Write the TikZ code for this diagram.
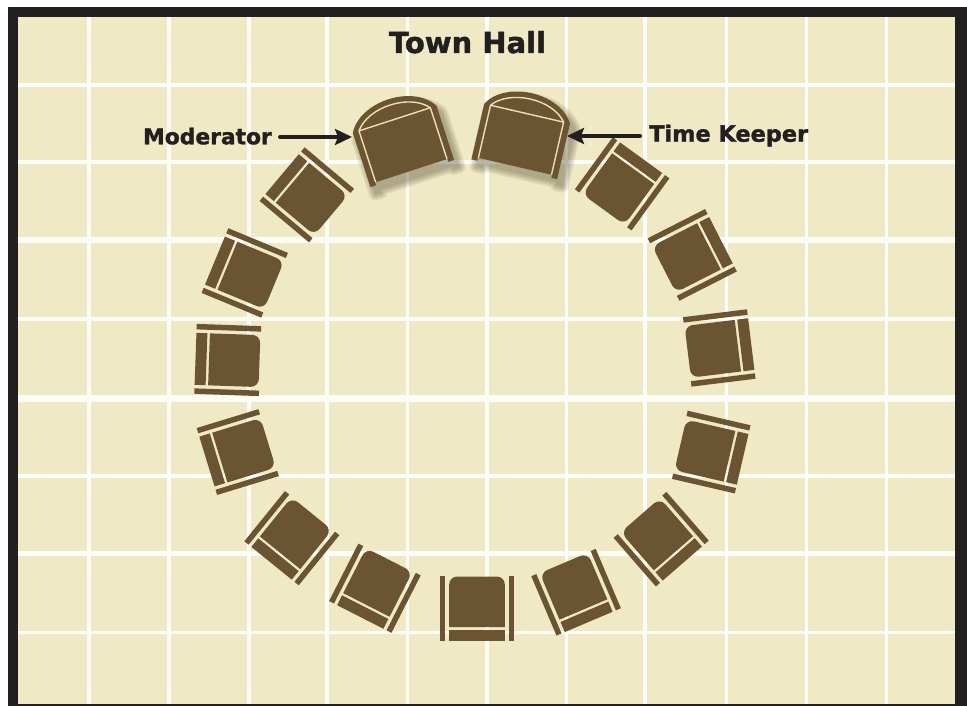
\documentclass[tikz,border=0pt]{standalone}
\usepackage{fontspec}
\setmainfont{DejaVu Sans}
\newfontfamily\signfont[FakeBold=1.4]{DejaVu Sans Bold}
\usetikzlibrary{arrows.meta}
\definecolor{floorcream}{RGB}{239,233,197}
\definecolor{chairbrown}{RGB}{107,84,50}
\definecolor{chairline}{RGB}{236,224,176}
\definecolor{framedark}{RGB}{35,31,32}
\tikzset{
  tile/.style={white!85!floorcream},
  chairpart/.style={fill=chairbrown},
  chairedge/.style={draw=chairline,line width=1.4pt,line join=round},
  pointer/.style={draw=framedark,line width=4pt,line cap=round,-{Stealth[length=17pt,width=16pt,inset=3pt]}},
  chairlabel/.style={text=framedark,font=\signfont\fontsize{21.8}{24}\selectfont,inner sep=0pt}
}
\newcommand{\smallchair}{%
  \fill[chairpart] (-35,-32) rectangle (-29.5,32.5);
  \fill[chairpart] (29.5,-32) rectangle (35,32.5);
  \fill[chairpart] (-26,19) [rounded corners=8pt] -- (-26,-31.5) -- (26,-31.5) [sharp corners] -- (26,19) -- cycle;
  \fill[chairpart] (-26,21.5) rectangle (26,32.5);
}
\newcommand{\bigchairpath}{(-44,30) -- (-44,-27) .. controls (-28,-55) and (28,-55) .. (44,-27) -- (44,30) -- (38,30) -- (38,27) -- (-38,27) -- (-38,30) -- cycle}
\newcommand{\bigchair}[3]{%
  \foreach \w in {13,10,7,4,1}{
    \begin{scope}[transparency group,opacity=.08]
      \draw[shift={(#1+5,#2+7)},rotate=#3,chairbrown!50!black,line width=\w pt,line join=round,fill=chairbrown!50!black] \bigchairpath;
    \end{scope}
  }
  \begin{scope}[shift={(#1,#2)},rotate=#3]
    \fill[chairpart] \bigchairpath;
    \draw[chairedge] (-37.5,27) -- (-37.5,-27) -- (37.5,-27) -- (37.5,27);
    \draw[chairedge] (-37.5,-27) .. controls (-22,-47) and (22,-47) .. (37.5,-27);
  \end{scope}
}
\begin{document}
\begin{tikzpicture}[x=1pt,y=-1pt]
\useasboundingbox (0,0) rectangle (967,706);
\fill[framedark] (8,7) rectangle (967,706);
\fill[floorcream] (18,17) rectangle (955,704);

% floor tiles
\begin{scope}
\clip (18,17) rectangle (955,704);
\foreach \x/\w in {89/3.5,169/4,249/3.5,327/4,407/3,487/4.5,566/3,645/4.5,726/3,806/3,886/3}
  \draw[tile,line width=\w pt] (\x,17) -- (\x,704);
\foreach \y/\w in {85/3.5,162/4,240/6,319/4,398/7,476/3.5,553/5,632/3}
  \draw[tile,line width=\w pt] (18,\y) -- (955,\y);
\end{scope}

% ring of chairs: x/y/rotation
\foreach \x/\y/\r in {576/592/23,661/539/41,711/452/77,719/348/97,692/255/117,622/184/144,
    307/195/-130,245/273/-112.5,228/360/-92,238/452/-73,292/538/-39,375/588/-27}{
  \begin{scope}[shift={(\x,\y)},rotate=\r]
    \smallchair
  \end{scope}
}
\begin{scope}[shift={(477,608)},xscale=1.07]
  \smallchair
\end{scope}

\bigchair{403}{145}{18}
\bigchair{521}{140}{-13}

\node[chairlabel,anchor=base] (townhall) at (467.5,53) {\fontsize{29}{31}\selectfont Town Hall};

\coordinate (moderatorchair) at (352,137);
\coordinate (keeperchair) at (567,136);
\node[chairlabel,anchor=base east,inner xsep=8pt] (moderator) at (280,144.3) {Moderator};
\node[chairlabel,anchor=base west,inner xsep=9pt] (keeper) at (640,141.7) {\fontsize{22.4}{24}\selectfont Time Keeper};
\draw[pointer] (moderator.east |- moderatorchair) -- (moderatorchair);
\draw[pointer] (keeper.west |- keeperchair) -- (keeperchair);
\end{tikzpicture}
\end{document}
